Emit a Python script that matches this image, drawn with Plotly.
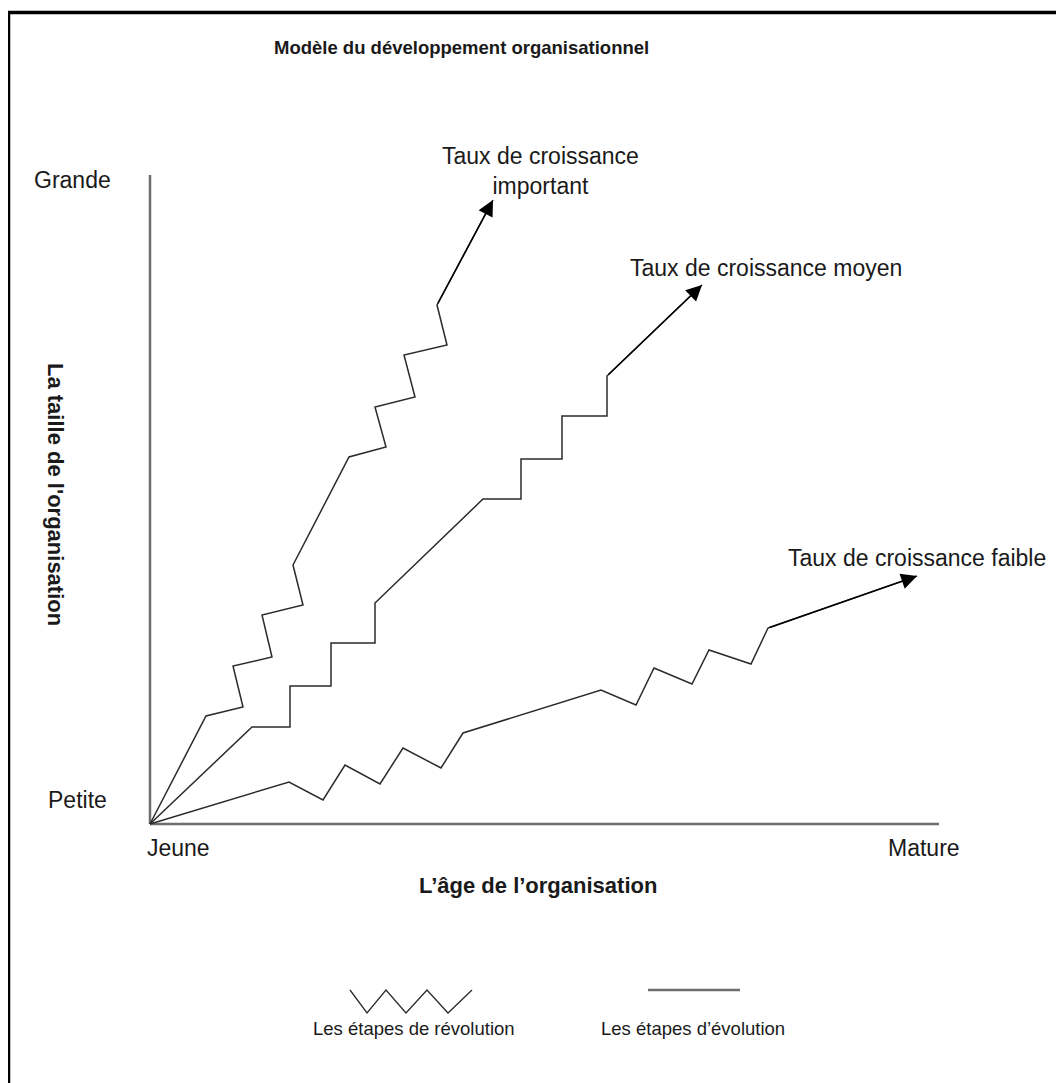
import plotly.graph_objects as go

# ---- data (age units to the right of the origin, size units above the origin) ----
age_important = [0, 56, 93, 83, 122, 112, 153, 143, 199, 236, 225, 265, 254, 297, 287, 343]
size_important = [0, 108, 117, 158, 167, 209, 219, 259, 367, 377, 417, 427, 469, 479, 519, 624]

age_moyen = [0, 102, 140, 140, 181, 181, 225, 225, 333, 371, 371, 412, 412, 457, 457, 552]
size_moyen = [0, 97, 97, 138, 138, 181, 181, 221, 325, 325, 365, 365, 408, 408, 448, 539]

age_faible = [0, 139, 173, 195, 230, 253, 291, 313, 451, 486, 504, 542, 559, 601, 618, 767]
size_faible = [0, 42, 24, 59, 40, 76, 56, 91, 134, 119, 156, 140, 174, 160, 196, 248]

axis_x_len = 789
axis_y_len = 649

legend_zig_x = [200, 217, 236, 256, 277, 298, 322]
legend_zig_y = [-166, -189, -166, -189, -166, -189, -166]
legend_line_x = [498, 590]
legend_line_y = [-166, -166]

series = [
    ("Taux de croissance important", age_important, size_important),
    ("Taux de croissance moyen", age_moyen, size_moyen),
    ("Taux de croissance faible", age_faible, size_faible),
]

LINE = "#2b2b2b"
AXIS = "#6e6e6e"
TXT = "#1a1a1a"
FONT = "Liberation Sans, Arial, sans-serif"

fig = go.Figure()

# axes
fig.add_trace(go.Scatter(x=[0, 0], y=[axis_y_len, 0], mode="lines",
                         line=dict(color=AXIS, width=2.5), hoverinfo="skip"))
fig.add_trace(go.Scatter(x=[0, axis_x_len], y=[0, 0], mode="lines",
                         line=dict(color=AXIS, width=2.5), hoverinfo="skip"))

annotations = []
for name, xs, ys in series:
    fig.add_trace(go.Scatter(x=xs, y=ys, mode="lines", name=name,
                             line=dict(color=LINE, width=1.5)))
    annotations.append(dict(x=xs[-1], y=ys[-1], ax=xs[-2], ay=ys[-2],
                            xref="x", yref="y", axref="x", ayref="y",
                            text="", showarrow=True, arrowhead=2,
                            arrowsize=2.1, arrowwidth=1.5, arrowcolor="#000"))

# legend samples
fig.add_trace(go.Scatter(x=legend_zig_x, y=legend_zig_y, mode="lines",
                         line=dict(color=LINE, width=1.3)))
fig.add_trace(go.Scatter(x=legend_line_x, y=legend_line_y, mode="lines",
                         line=dict(color=AXIS, width=2.5)))

def txt(x, y, t, size=23, bold=False, **kw):
    d = dict(x=x, y=y, xref="x", yref="y", text=f"<b>{t}</b>" if bold else t,
             showarrow=False, font=dict(family=FONT, size=size, color=TXT))
    d.update(kw)
    annotations.append(d)

txt(122, 777, "Modèle du développement organisationnel", size=18.5, bold=True, xanchor="left")
txt(390, 653, "Taux de croissance<br>important")
txt(478, 556, "Taux de croissance moyen", xanchor="left")
txt(636, 266, "Taux de croissance faible", xanchor="left")
txt(-37, 644, "Grande", xanchor="right")
txt(-41, 24, "Petite", xanchor="right")
txt(-5, -24, "Jeune", xanchor="left")
txt(736, -24, "Mature", xanchor="left")
txt(388, -61, "L’âge de l’organisation", size=22, bold=True)
txt(-94, 330, "La taille de l'organisation", size=22, bold=True, textangle=90)
txt(264, -204, "Les étapes de révolution", size=18.5)
txt(543, -204, "Les étapes d’évolution", size=18.5)

shapes = [
    dict(type="line", xref="x", yref="y", x0=-141.5, x1=-141.5, y0=811.5, y1=-300,
         line=dict(color="#000", width=3.5)),
    dict(type="line", xref="x", yref="y", x0=-143.2, x1=950, y0=811.5, y1=811.5,
         line=dict(color="#000", width=3.5)),
]

# the page adds an 8px body margin, so ranges are shifted to keep the origin at (150, 824)
fig.update_layout(
    width=1064, height=1083,
    margin=dict(l=0, r=0, t=0, b=0),
    paper_bgcolor="white", plot_bgcolor="white",
    showlegend=False,
    xaxis=dict(range=[-142, 922], visible=False, fixedrange=True),
    yaxis=dict(range=[-267, 816], visible=False, fixedrange=True),
    annotations=annotations,
    shapes=shapes,
)

fig.write_html("out.html")
